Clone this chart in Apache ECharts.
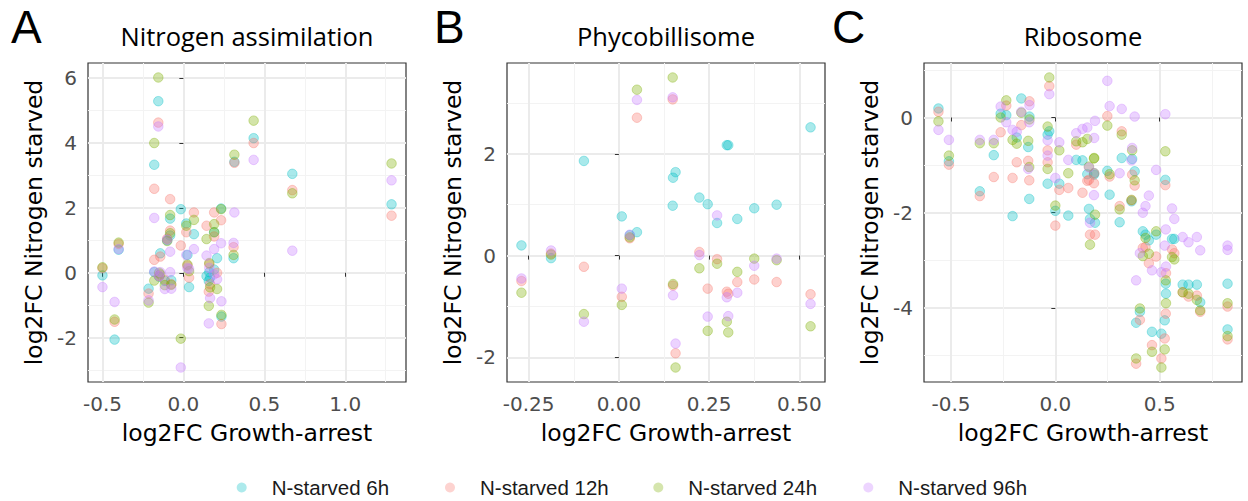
<!DOCTYPE html>
<html><head><meta charset="utf-8">
<script src="https://cdn.jsdelivr.net/npm/echarts@6/dist/echarts.min.js"></script>
<style>html,body{margin:0;padding:0;background:#fff}#c{width:1248px;height:501px}</style>
</head><body><div id="c"></div>
<script>
const seriesNames = ['N-starved 6h','N-starved 12h','N-starved 24h','N-starved 96h'];
const seriesColors = ['#00BFC4','#F8766D','#7CAE00','#C77CFF'];
const panelTitles = ['Nitrogen assimilation','Phycobillisome','Ribosome'];
const panelLetters = ['A','B','C'];
const xAxisTitle = 'log2FC Growth-arrest';
const yAxisTitle = 'log2FC Nitrogen starved';

// ---- Panel A: Nitrogen assimilation ----
const growthA = [-0.50,-0.425,-0.40,-0.215,-0.18,-0.155,-0.18,-0.143,-0.15,-0.115,-0.10,-0.082,-0.082,-0.075,-0.016,0.018,0.025,0.035,0.065,0.143,0.157,0.19,0.19,0.16,0.165,0.208,0.233,0.235,0.31,0.315,0.434,0.673,1.286];
const n6hA  = [-0.08,-2.06,0.71,-0.49,3.33,5.29,0.02,0.60,-0.12,-0.25,1.00,1.67,1.15,-0.23,1.96,1.52,0.55,-0.44,1.19,-0.10,-0.25,1.25,0.10,0.02,-0.15,0.45,1.98,-1.35,0.45,3.42,4.15,3.05,2.11];
const n12hA = [0.14,-1.51,0.89,-0.64,2.59,4.63,0.40,0.50,-0.10,-0.22,1.05,2.27,1.30,-0.35,0.84,1.25,0.22,-0.15,1.86,1.45,-0.58,1.86,1.12,0.27,-0.35,0.00,1.62,-1.58,0.79,3.39,4.00,2.55,1.76];
const n24hA = [0.17,-1.44,0.93,-0.92,4.00,6.02,-0.24,-0.05,0.00,-0.38,0.98,1.78,1.22,-0.37,-2.03,1.45,0.25,0.05,1.63,1.04,-1.02,1.50,1.25,0.30,-0.45,-0.50,1.96,-1.30,0.55,3.64,4.69,2.45,3.37];
const n96hA = [-0.44,-0.90,0.73,-0.85,1.69,4.51,0.04,0.02,-0.10,-0.50,1.02,0.65,0.02,-0.49,-2.92,0.55,0.15,0.12,0.73,0.53,-1.56,0.73,-0.05,0.15,-0.78,-0.20,0.91,-0.88,0.92,1.86,3.48,0.68,2.85];
const xTicksA = [-0.5,0,0.5,1.0], xMinorA = [-0.25,0.25,0.75,1.25];
const yTicksA = [-2,0,2,4,6], yMinorA = [-3,-1,1,3,5];

// ---- Panel B: Phycobillisome ----
const growthB = [-0.270,-0.188,-0.097,0.008,0.030,0.050,0.149,0.150,0.157,0.223,0.246,0.272,0.299,0.303,0.328,0.375,0.437,0.531];
const n6hB  = [0.20,-0.05,1.86,0.77,0.40,0.46,0.98,1.53,1.64,1.14,1.01,0.64,2.17,2.17,0.72,0.93,1.00,2.52];
const n12hB = [-0.50,0.04,-0.22,-0.81,0.34,2.71,3.07,-0.59,-1.92,0.07,-0.65,-0.07,-0.71,-0.75,-0.52,-0.47,-0.52,-0.76];
const n24hB = [-0.73,0.02,-1.15,-0.97,0.36,3.26,3.50,-0.56,-2.20,-0.25,-1.48,-0.16,-1.30,-1.51,-0.32,-0.06,-0.09,-1.39];
const n96hB = [-0.45,0.10,-1.30,-0.65,0.41,3.06,3.11,-0.78,-1.73,0.01,-1.20,0.79,-0.82,-1.19,-0.73,-0.20,-0.06,-0.95];
const xTicksB = [-0.25,0,0.25,0.5], xMinorB = [-0.125,0.125,0.375];
const yTicksB = [-2,0,2], yMinorB = [-1,1,3];

// ---- Panel C: Ribosome ----
const growthC = [-0.56,-0.51,-0.362,-0.295,-0.262,-0.235,-0.205,-0.185,-0.163,-0.124,-0.13,-0.125,-0.029,-0.037,-0.037,0.0,0.019,0.062,0.10,0.13,0.153,0.161,0.166,0.185,0.19,0.186,0.249,0.26,0.308,0.318,0.368,0.365,0.38,0.387,0.405,0.419,0.432,0.448,0.463,0.483,0.508,0.524,0.527,0.529,0.53,0.559,0.570,0.61,0.638,0.678,0.694,0.825,0.825];
const n6hC  = [0.19,-0.92,-1.55,-0.79,0.08,0.05,-2.07,-0.42,0.40,0.02,-0.62,-1.71,-0.29,-0.36,-1.39,-1.96,-1.39,-2.06,-0.89,-0.90,-1.19,-1.92,-2.13,-1.20,-2.21,-1.17,-1.12,-1.62,-2.20,-0.85,-0.87,-1.76,-1.13,-4.31,-4.08,-2.39,-2.46,-2.58,-4.50,-2.46,-4.54,-4.26,-1.31,-3.49,-3.70,-2.55,-2.55,-3.51,-3.51,-3.51,-3.88,-3.49,-4.45];
const n12hC = [0.12,-0.99,-1.65,-1.25,-0.31,0.25,-1.27,-0.94,-0.16,0.34,-0.91,-1.32,0.66,-0.69,-0.94,-2.27,-1.52,-1.48,-0.57,-1.58,-1.33,-1.31,-2.46,-1.38,-2.46,-1.17,0.03,-1.24,-1.86,-0.29,-1.20,-1.74,-1.43,-5.17,-4.25,-2.74,-2.72,-3.06,-4.78,-2.92,-5.06,-4.64,-1.42,-4.12,-3.27,-2.77,-2.85,-3.67,-3.76,-3.74,-4.08,-3.97,-4.66];
const n24hC = [-0.08,-0.80,-0.54,-0.54,0.00,0.36,-0.47,-0.55,0.10,-0.04,-0.49,-1.04,0.84,-0.19,-1.08,-1.85,-0.69,-1.17,-0.50,-0.52,-0.45,-1.03,-2.67,-0.86,-2.04,-0.85,-0.17,-1.19,-1.93,-0.36,-0.69,-1.73,-1.32,-5.06,-4.01,-2.91,-2.53,-2.86,-4.92,-2.39,-5.25,-4.87,-0.71,-3.42,-3.90,-2.93,-2.98,-3.67,-3.70,-3.83,-4.05,-3.90,-4.59];
const n96hC = [-0.26,-0.47,-0.47,-0.47,0.23,-0.10,-0.26,-0.30,0.12,0.26,-1.08,-0.10,0.49,-0.48,-0.80,-1.27,-0.52,-0.89,-0.33,-0.24,-0.21,-1.05,-2.21,-1.63,-0.07,-0.43,0.77,0.24,-1.17,0.18,-0.64,-0.90,0.02,-3.42,-2.85,-2.00,-1.86,-1.64,-3.21,-1.10,-3.25,-2.69,0.07,-2.35,-3.13,-1.91,-2.13,-2.51,-2.62,-2.51,-2.79,-2.69,-2.78];
const xTicksC = [-0.5,0,0.5], xMinorC = [-0.25,0.25,0.75];
const yTicksC = [-4,-2,0], yMinorC = [-5,-3,-1,1];

const panels = [
  {growth: growthA, ys: [n6hA,n12hA,n24hA,n96hA], xt: xTicksA, xm: xMinorA, yt: yTicksA, ym: yMinorA, dec: 1},
  {growth: growthB, ys: [n6hB,n12hB,n24hB,n96hB], xt: xTicksB, xm: xMinorB, yt: yTicksB, ym: yMinorB, dec: 2},
  {growth: growthC, ys: [n6hC,n12hC,n24hC,n96hC], xt: xTicksC, xm: xMinorC, yt: yTicksC, ym: yMinorC, dec: 1}
];
const gridLefts = [88, 507, 924];
const gridTop = 63, gridW = 318, gridH = 319;

function rgba(hex, a) {
  const n = parseInt(hex.slice(1), 16);
  return 'rgba(' + ((n >> 16) & 255) + ',' + ((n >> 8) & 255) + ',' + (n & 255) + ',' + a + ')';
}
function expand(vals) {
  const lo = Math.min.apply(null, vals), hi = Math.max.apply(null, vals);
  const pad = (hi - lo) * 0.05;
  return [lo - pad, hi + pad];
}

const tickFont = {color: '#4D4D4D', fontSize: 20, fontFamily: 'DejaVu Sans'};
const nameFont = {color: '#000', fontSize: 23.5, fontFamily: 'DejaVu Sans'};

const grids = [], xAxes = [], yAxes = [], series = [], graphics = [];
panels.forEach((p, i) => {
  grids.push({left: gridLefts[i], top: gridTop, width: gridW, height: gridH, show: true,
    backgroundColor: '#fff', borderColor: '#333', borderWidth: 1.2});
  const xr = expand(p.growth);
  const yr = expand([].concat(p.ys[0], p.ys[1], p.ys[2], p.ys[3]));
  xAxes.push({type: 'value', gridIndex: i, min: xr[0], max: xr[1], position: 'bottom',
    axisLine: {show: false},
    axisTick: {show: true, length: 4, lineStyle: {color: '#333', width: 1}, customValues: p.xt},
    axisLabel: Object.assign({customValues: p.xt, margin: 12, formatter: v => Number(v).toFixed(p.dec)}, tickFont),
    splitLine: {show: true, lineStyle: {color: '#EBEBEB', width: 2}},
    name: xAxisTitle, nameLocation: 'middle', nameGap: 39, nameTextStyle: nameFont});
  yAxes.push({type: 'value', gridIndex: i, min: yr[0], max: yr[1], position: 'left',
    axisLine: {show: false},
    axisTick: {show: true, length: 4, lineStyle: {color: '#333', width: 1}, customValues: p.yt},
    axisLabel: Object.assign({customValues: p.yt, margin: 11, formatter: v => String(v)}, tickFont),
    splitLine: {show: true, lineStyle: {color: '#EBEBEB', width: 2}},
    name: yAxisTitle, nameLocation: 'middle', nameGap: 42, nameTextStyle: nameFont});
  graphics.push({type: 'text', x: gridLefts[i] + gridW / 2, y: 36,
    style: {text: panelTitles[i], font: '25.5px "Open Sans"', lineHeight: 28, fill: '#000', align: 'center', verticalAlign: 'middle'}});
});
panels.forEach((p, i) => {
  const xr = expand(p.growth);
  const yr = expand([].concat(p.ys[0], p.ys[1], p.ys[2], p.ys[3]));
  xAxes.push({type: 'value', gridIndex: i, min: xr[0], max: xr[1], position: 'top',
    axisLine: {show: false}, axisTick: {show: false, customValues: p.xm}, axisLabel: {show: false},
    splitLine: {show: true, lineStyle: {color: '#F3F3F3', width: 1}}});
  yAxes.push({type: 'value', gridIndex: i, min: yr[0], max: yr[1], position: 'right',
    axisLine: {show: false}, axisTick: {show: false, customValues: p.ym}, axisLabel: {show: false},
    splitLine: {show: true, lineStyle: {color: '#F3F3F3', width: 1}}});
});
panels.forEach((p, i) => {
  p.ys.forEach((vals, k) => {
    series.push({type: 'scatter', name: seriesNames[k], xAxisIndex: i, yAxisIndex: i,
      symbol: 'circle', symbolSize: 9.5,
      itemStyle: {color: rgba(seriesColors[k], 0.42), borderColor: rgba(seriesColors[k], 0.45), borderWidth: 1},
      emphasis: {disabled: true},
      data: p.growth.map((x, j) => [x, vals[j]])});
  });
});
const letterX = [11, 434, 832];
panelLetters.forEach((L, i) => {
  graphics.push({type: 'text', x: letterX[i], y: 27,
    style: {text: L, font: '46px "Liberation Sans"', lineHeight: 46, fill: '#000', align: 'left', verticalAlign: 'middle'}});
});

const legendCenters = [241.7, 450, 658.3, 868.3];
const legends = seriesNames.map((n, k) => ({
  left: legendCenters[k] - 5, top: 477, padding: 0, orient: 'horizontal', icon: 'circle',
  itemWidth: 10, itemHeight: 10, selectedMode: false,
  textStyle: {fontFamily: 'Liberation Sans', fontSize: 20.5, color: '#1a1a1a', padding: [0, 0, 0, 20]},
  data: [{name: n, itemStyle: {color: rgba(seriesColors[k], 0.4), borderWidth: 0}}]
}));

const chart = echarts.init(document.getElementById('c'), null, {renderer: 'svg', width: 1248, height: 501});
chart.setOption({
  animation: false,
  backgroundColor: '#fff',
  grid: grids,
  xAxis: xAxes,
  yAxis: yAxes,
  series: series,
  graphic: graphics,
  legend: legends
});
</script>
</body></html>
